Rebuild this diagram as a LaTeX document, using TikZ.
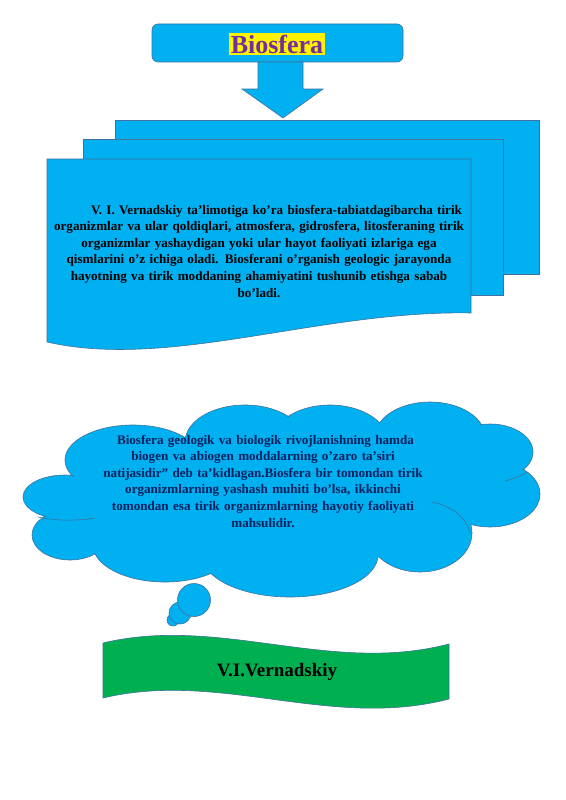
\documentclass[tikz,border=0pt]{standalone}
\usepackage{fontspec}
\setmainfont{Liberation Serif}
\definecolor{skyblue}{RGB}{0,176,240}
\definecolor{rimblue}{RGB}{65,113,156}
\definecolor{leafgreen}{RGB}{0,176,80}
\definecolor{titlepurple}{RGB}{112,48,160}
\definecolor{navytext}{RGB}{0,32,96}
\begin{document}
\begin{tikzpicture}[x=1pt, y=-1pt,
    sheet/.style={fill=skyblue, draw=rimblue, line width=.6pt},
    bubble/.style={circle, sheet, inner sep=0pt},
    bodytext/.style={font=\bfseries\fontsize{13.1}{16.6}\selectfont, align=center}]
\useasboundingbox[fill=white] (0,0) rectangle (565,800);

\node[sheet, rounded corners=6pt, minimum width=251pt, minimum height=38pt] (titlebox) at (277.5,43) {};
\node[fill=yellow, text=titlepurple, inner sep=1.5pt, font=\bfseries\fontsize{26}{28}\selectfont] (title) at (277,44) {Biosfera};
\draw[sheet] (258,62) -- (303,62) -- (303,89) -- (323,89) -- (283,118) -- (242,89) -- (258,89) -- cycle;

\draw[sheet] (115,120) rectangle (539,274);
\draw[sheet] (83,139) rectangle (503,295);
\draw[sheet] (47,159) -- (471,159) -- (471,313) .. controls (320,310) and (170,370) .. (47,342) -- cycle;
\node[bodytext, text width=420pt] (idea) at (259,251) {\hspace*{35pt}V. I. Vernadskiy ta’limotiga ko’ra biosfera-tabiatdagibarcha tirik\\
organizmlar va ular qoldiqlari, atmosfera, gidrosfera, litosferaning tirik\\
organizmlar yashaydigan yoki ular hayot faoliyati izlariga ega\\
qismlarini o’z ichiga oladi. Biosferani o’rganish geologic jarayonda\\
hayotning va tirik moddaning ahamiyatini tushunib etishga sabab\\
bo’ladi.};

% cloud: lobes drawn, then filled again a little smaller to hide the seams
\draw[sheet] (65,497) ellipse (42pt and 22pt) (70,535) ellipse (38pt and 25pt)
  (165,545) ellipse (72pt and 37pt) (290,555) ellipse (88pt and 42pt)
  (420,533) ellipse (52pt and 39pt) (490,494) ellipse (50pt and 33pt)
  (490,452) ellipse (43pt and 28pt) (430,437) ellipse (55pt and 35pt)
  (330,442) ellipse (58pt and 37pt) (245,442) ellipse (60pt and 37pt)
  (133,460) ellipse (68pt and 35pt);
\fill[skyblue] (285,500) ellipse (200pt and 65pt)
  (65,497) ellipse (41pt and 21pt) (70,535) ellipse (37pt and 24pt)
  (165,545) ellipse (71pt and 36pt) (290,555) ellipse (87pt and 41pt)
  (420,533) ellipse (51pt and 38pt) (490,494) ellipse (49pt and 32pt)
  (490,452) ellipse (42pt and 27pt) (430,437) ellipse (54pt and 34pt)
  (330,442) ellipse (57pt and 36pt) (245,442) ellipse (59pt and 36pt)
  (133,460) ellipse (67pt and 34pt);
\draw[rimblue, line width=.6pt] (38,517) .. controls (55,521) and (78,521) .. (95,518)
  (505,481) .. controls (513,479) and (521,476) .. (527,472)
  (432,502) .. controls (452,506) and (467,518) .. (470,533);
\node[bodytext, text=navytext, text width=420pt] (quote) at (263,481) {\hspace*{5pt}Biosfera geologik va biologik rivojlanishning hamda\\
biogen va abiogen moddalarning o’zaro ta’siri\\
natijasidir” deb ta’kidlagan.Biosfera bir tomondan tirik\\
organizmlarning yashash muhiti bo’lsa, ikkinchi\\
tomondan esa tirik organizmlarning hayotiy faoliyati\\
mahsulidir.};
\node[bubble, minimum size=12pt] (dot3) at (173,620) {};
\node[bubble, minimum size=22pt] (dot2) at (180,613) {};
\node[bubble, minimum size=33pt] (dot1) at (194,600) {};

\draw[fill=leafgreen, draw=rimblue, line width=.6pt] (103,643) .. controls (220,615) and (330,675) .. (449,644) -- (449,699) .. controls (330,730) and (220,670) .. (103,698) -- cycle;
\node[font=\bfseries\fontsize{19}{22}\selectfont] (author) at (277,672) {V.I.Vernadskiy};
\end{tikzpicture}
\end{document}
